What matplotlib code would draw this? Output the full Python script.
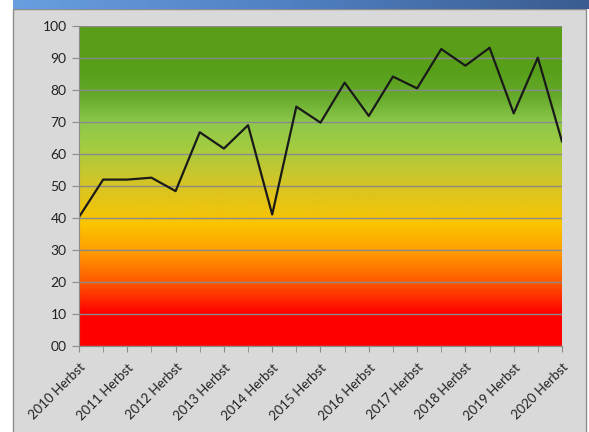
import numpy as np
import matplotlib
matplotlib.use('Agg')
import matplotlib.pyplot as plt
from matplotlib.colors import LinearSegmentedColormap
from matplotlib.patches import Rectangle

# ── Data ──
years = list(range(2010, 2021))
labels = [f"{y} Herbst" for y in years]
values = [40.3, 52.0, 52.0, 52.6, 48.4, 66.8, 61.7, 69.0, 41.1, 74.8, 69.8,
          82.3, 71.9, 84.2, 80.5, 92.8, 87.6, 93.2, 72.7, 90.1, 63.9]

# ── Background gradient (value -> colour) ──
stops = [(0.00, "#ff0000"), (0.10, "#ff0000"), (0.20, "#ff5a00"),
         (0.30, "#ffa000"), (0.38, "#fac400"), (0.50, "#d8c424"),
         (0.62, "#a4cc40"), (0.70, "#8cc84a"), (0.78, "#66aa2c"),
         (0.86, "#58a01a"), (1.00, "#5a9c18")]
cmap = LinearSegmentedColormap.from_list("ampel", stops)

plt.rcParams['font.family'] = ['Lato', 'DejaVu Sans']

fig = plt.figure(figsize=(5.89, 4.32), dpi=100)
fig.patch.set_facecolor("white")

# panel
fig.add_artist(Rectangle((13 / 589, -0.01), 573 / 589, 423 / 432 + 0.01, transform=fig.transFigure,
                         facecolor="#d9d9d9", edgecolor="#8c8c8c", linewidth=1.0, zorder=0))
# blue title bar
bar = fig.add_axes([13 / 589, 423 / 432, 576 / 589, 9 / 432])
bar.imshow(np.linspace(0, 1, 256)[None, :], aspect="auto",
           cmap=LinearSegmentedColormap.from_list("blue", ["#6a9ee0", "#4f7fc0", "#3a5c90"]),
           extent=[0, 1, 0, 1])
bar.set_axis_off()

ax = fig.add_axes([79 / 589, 86 / 432, 483 / 589, 320 / 432])
ax.set_facecolor("#d9d9d9")
grad = np.linspace(0, 1, 400)[:, None]
ax.imshow(grad, aspect="auto", cmap=cmap, origin="lower",
          extent=[0, len(values) - 1, 0, 100], zorder=0)

x = np.arange(len(values))
ax.plot(x, values, color="#1a1a1a", linewidth=1.6, zorder=3)

ax.set_xlim(0, len(values) - 1)
ax.set_ylim(0, 100)
ax.set_yticks(range(0, 101, 10))
ax.set_yticklabels([f"{v:02d}" for v in range(0, 101, 10)], fontsize=10, color="#222222")
ax.yaxis.grid(True, color="#8a8a8a", linewidth=1.0, zorder=1)
ax.set_axisbelow(False)

ax.set_xticks(x, minor=True)
ax.set_xticks(x[::2])
ax.set_xticklabels(labels, rotation=45, ha="right", rotation_mode="anchor",
                   fontsize=9.5, color="#222222")
ax.tick_params(axis="x", which="both", length=4, color="#8a8a8a", pad=7)
ax.tick_params(axis="y", length=5, color="#8a8a8a", pad=4)

for s in ["top", "right"]:
    ax.spines[s].set_visible(False)
for s in ["left", "bottom"]:
    ax.spines[s].set_color("#8a8a8a")
    ax.spines[s].set_zorder(4)

fig.savefig("out.png", dpi=100)
plt.close()
